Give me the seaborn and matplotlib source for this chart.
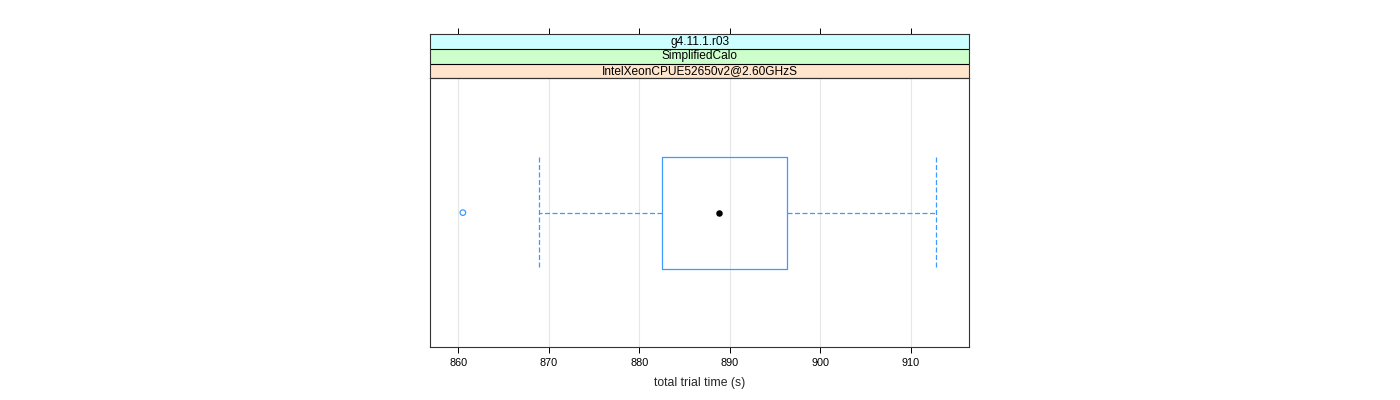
import matplotlib
matplotlib.use("Agg")
import matplotlib.pyplot as plt
import seaborn as sns

# ---- data ----
strip_labels = ["g4.11.1.r03", "SimplifiedCalo", "IntelXeonCPUE52650v2@2.60GHzS"]
strip_colors = ["#ccffff", "#ccffcc", "#ffe5cc"]
# lower whisker, Q1, median, Q3, upper whisker
box_values = [868.9, 882.5, 888.8, 896.3, 912.8]
outlier_values = [860.5]
median_value = [888.8]
x_ticks = [860, 870, 880, 890, 900, 910]
x_label = "total trial time (s)"

sns.set_style("white")
plt.rcParams["font.family"] = ["Liberation Sans", "DejaVu Sans"]

BLUE = "#3d9bff"
W, H = 1400, 400
fig = plt.figure(figsize=(14, 4), dpi=100)
left, right = 430, 969.3
p_top, p_bot = 78.3, 347
s_top = 34.3
ax = fig.add_axes([left / W, 1 - p_bot / H, (right - left) / W, (p_bot - p_top) / H])
sax = fig.add_axes([left / W, 1 - p_top / H, (right - left) / W, (p_top - s_top) / H], sharex=ax)

dash = (0, (4, 2))
sns.boxplot(x=box_values, ax=ax, orient="h", width=0.5, fill=False, color=BLUE,
            saturation=1, linecolor=BLUE, linewidth=0.9, whis=1.5, showfliers=False,
            medianprops={"visible": False},
            whiskerprops={"linestyle": dash, "color": BLUE},
            capprops={"linestyle": dash, "color": BLUE},
            capwidths=0.5)

sns.scatterplot(x=median_value, y=[0] * len(median_value), ax=ax, color="black",
                s=22, linewidth=0, zorder=5)
sns.scatterplot(x=outlier_values, y=[0] * len(outlier_values), ax=ax, color=BLUE,
                s=16, linewidth=0.9, zorder=5)
ax.collections[-1].set_facecolor("none")
ax.collections[-1].set_edgecolor(BLUE)

ax.set_xlim(856.87, 916.44)
ax.set_ylim(0.6, -0.6)
ax.set_xticks(x_ticks)
ax.set_xticklabels([str(t) for t in x_ticks])
ax.set_yticks([])
ax.set_ylabel("")
ax.grid(axis="x", color="#e6e6e6", linewidth=0.8)
ax.set_axisbelow(True)
ax.tick_params(axis="x", bottom=True, top=False, direction="out", length=4.3,
               width=0.7, colors="black", labelsize=7.8, pad=3.5)
ax.set_xlabel(x_label, fontsize=8.8, labelpad=6.5)
for sp in ax.spines.values():
    sp.set_color("#333333")
    sp.set_linewidth(0.8)
    sp.set_visible(True)

# strips
n = len(strip_labels)
sax.set_ylim(0, n)
for i, (lab, col) in enumerate(zip(strip_labels, strip_colors)):
    y0 = n - 1 - i
    sax.axhspan(y0, y0 + 1, color=col, zorder=0)
    sax.axhline(y0, color="black", linewidth=0.8, zorder=2)
    sax.text(0.5, (y0 + 0.5) / n, lab, transform=sax.transAxes, ha="center",
             va="center", fontsize=8.6, color="black", zorder=3)
sax.set_yticks([])
sax.xaxis.tick_top()
sax.tick_params(axis="x", top=True, bottom=False, labeltop=False, labelbottom=False,
                direction="out", length=4.3, width=0.7, colors="black")
for sp in sax.spines.values():
    sp.set_color("#333333")
    sp.set_linewidth(0.8)
    sp.set_visible(True)

fig.savefig("out.png", dpi=100)
